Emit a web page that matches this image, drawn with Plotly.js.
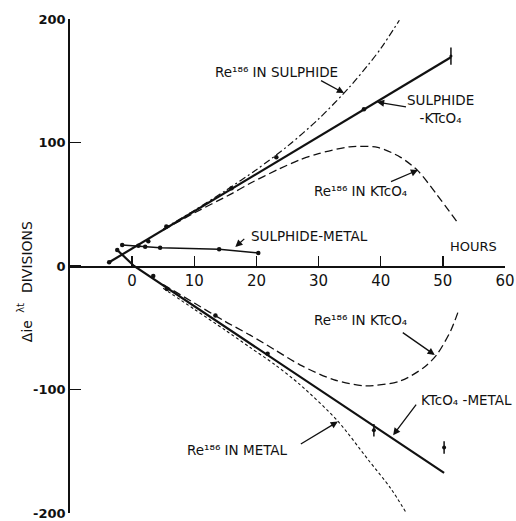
<!DOCTYPE html>
<html>
<head>
<meta charset="utf-8">
<script src="https://cdn.plot.ly/plotly-3.0.1.min.js"></script>
<style>html,body{margin:0;padding:0;background:#fff;}#chart{width:516px;height:521px;}</style>
</head>
<body>
<div id="chart"></div>
<script>
// ---- Data (hours, Δie^λt divisions) ----
const xTickVals = [0, 10, 20, 30, 40, 50, 60];
const xTickText = ['0', '10', '20', '30', '40', '50', '60'];
const yTickVals = [-200, -100, 0, 100, 200];
const yTickText = ['-200', '-100', '0', '100', '200'];

// SULPHIDE - KTcO4 (upper, solid fit)
const sulKtcHours = [-3.7, 2.6, 5.5, 16, 23.2, 37.3];
const sulKtcValues = [3, 20, 32, 63, 88, 127];
const sulKtcFitHours = [-3.7, 51.3];
const sulKtcFitValues = [3, 169];
const sulKtcErrHours = [51.3];
const sulKtcErrValues = [170];
const sulKtcErrSize = [7];

// Re186 in sulphide (dash-dot)
const reSulHours = [5, 10, 15, 20, 25, 30, 35, 38, 40, 43];
const reSulValues = [30, 45, 61, 78, 97, 119, 145, 163, 176, 199];

// Re186 in KTcO4 (upper, dashed)
const reKtcUpHours = [5, 10, 15.8, 19, 23.4, 27, 30, 35, 39.5, 43.2, 46, 49, 52.4];
const reKtcUpValues = [29, 43, 58, 67, 78, 86, 91, 96.5, 96, 88, 77, 58, 35];

// SULPHIDE - METAL
const sulMetHours = [-1.6, 1, 2.1, 4.5, 14, 20.3];
const sulMetValues = [17, 16.3, 15.6, 14.8, 13.6, 10.6];

// KTcO4 - METAL (lower, solid)
const ktcMetHours = [-2.4, 3.4, 5.6, 13.4, 21.8];
const ktcMetValues = [13, -8, -18.7, -40, -71];
const ktcMetFitHours = [-2.4, 0.3, 50.2];
const ktcMetFitValues = [13, 0, -167.5];
const ktcMetErrHours = [38.9, 50.2];
const ktcMetErrValues = [-133, -147];
const ktcMetErrSize = [5, 5];

// Re186 in KTcO4 (lower, dashed)
const reKtcLowHours = [5, 10, 15, 19, 23, 27, 32.4, 37.6, 43.2, 47, 49, 51.3, 52.6];
const reKtcLowValues = [-15, -30, -45, -56, -68, -80, -92, -97, -93, -82, -72, -52, -35];

// Re186 in metal (short dashes)
const reMetHours = [5, 10, 15, 19, 23, 27, 33, 38, 41.6, 44];
const reMetValues = [-18, -35, -52, -66, -80, -96, -125, -157, -180, -199];

const FONT = 'DejaVu Sans, Arial, sans-serif';
const black = '#111';

const traces = [
  {x: sulKtcFitHours, y: sulKtcFitValues, mode: 'lines', line: {color: black, width: 2.2}},
  {x: sulKtcHours, y: sulKtcValues, mode: 'markers', marker: {color: black, size: 4.5}},
  {x: sulKtcErrHours, y: sulKtcErrValues, mode: 'markers', marker: {color: black, size: 3},
   error_y: {type: 'data', array: sulKtcErrSize, color: black, thickness: 1.5, width: 0}},
  {x: reSulHours, y: reSulValues, mode: 'lines', line: {color: black, width: 1.2, dash: '7px,3px,2px,3px', shape: 'spline', smoothing: 0.8}},
  {x: reKtcUpHours, y: reKtcUpValues, mode: 'lines', line: {color: black, width: 1.3, dash: '8px,4px', shape: 'spline', smoothing: 0.8}},
  {x: sulMetHours, y: sulMetValues, mode: 'lines+markers', line: {color: black, width: 1.5}, marker: {color: black, size: 4.5}},
  {x: ktcMetFitHours, y: ktcMetFitValues, mode: 'lines', line: {color: black, width: 2.2}},
  {x: ktcMetHours, y: ktcMetValues, mode: 'markers', marker: {color: black, size: 4.5}},
  {x: ktcMetErrHours, y: ktcMetErrValues, mode: 'markers', marker: {color: black, size: 4},
   error_y: {type: 'data', array: ktcMetErrSize, color: black, thickness: 1.5, width: 0}},
  {x: reKtcLowHours, y: reKtcLowValues, mode: 'lines', line: {color: black, width: 1.3, dash: '8px,4px', shape: 'spline', smoothing: 0.8}},
  {x: reMetHours, y: reMetValues, mode: 'lines', line: {color: black, width: 1.1, dash: '3px,2.5px', shape: 'spline', smoothing: 0.8}}
];

const labelFont = {family: FONT, size: 13.5, color: black};
function label(x, y, text, extra) {
  return Object.assign({x: x, y: y, xref: 'x', yref: 'y', text: text, showarrow: false, font: labelFont, align: 'center'}, extra || {});
}
function arrow(x, y, ax, ay) {
  return {x: x, y: y, xref: 'x', yref: 'y', text: ' ', showarrow: true, ax: ax, ay: ay,
          font: {size: 2}, borderpad: 0,
          arrowhead: 2, arrowsize: 1.1, arrowwidth: 1.3, arrowcolor: black, standoff: 0, startstandoff: 0};
}
function ytitle(x, y, text, size) {
  return {xref: 'paper', yref: 'paper', x: x, y: y, xanchor: 'center', yanchor: 'middle',
          text: text, textangle: -90, showarrow: false, font: {family: FONT, size: size, color: black}};
}

const annotations = [
  label(23.3, 157, 'Re¹⁸⁶ IN SULPHIDE'),
  label(49.6, 127, 'SULPHIDE<br>-KTcO₄'),
  label(36.7, 61, 'Re¹⁸⁶ IN KTcO₄'),
  label(28.5, 24.5, 'SULPHIDE-METAL'),
  label(55, 16, 'HOURS', {font: {family: FONT, size: 13, color: black}}),
  label(36.7, -43.5, 'Re¹⁸⁶ IN KTcO₄'),
  label(53.8, -108.5, 'KTcO₄ -METAL'),
  label(17, -149, 'Re¹⁸⁶ IN METAL'),
  arrow(34.1, 140, -24, -13),
  arrow(39.4, 132.8, 30, 5),
  arrow(46, 77.7, -28, 12),
  arrow(16.6, 15.4, 10, -9),
  arrow(48.7, -72, -33, -23),
  arrow(42, -137, 24, -32),
  arrow(33.1, -126, -38, 23),
  ytitle(-0.099, 0.518, 'DIVISIONS', 14),
  ytitle(-0.099, 0.368, 'Δie', 14),
  ytitle(-0.113, 0.415, 'λt', 10)
];

const layout = {
  width: 516, height: 521,
  margin: {l: 70, r: 11, t: 19, b: 8},
  paper_bgcolor: '#fff', plot_bgcolor: '#fff',
  showlegend: false,
  font: {family: FONT, color: black},
  xaxis: {
    range: [-10, 60], anchor: 'free', position: 0.5,
    showgrid: false, zeroline: false, showline: true, linecolor: black, linewidth: 1.6,
    ticks: 'inside', ticklen: 10, tickwidth: 1.4, tickcolor: black,
    tickvals: xTickVals, ticktext: xTickText,
    tickfont: {family: FONT, size: 15, color: black}
  },
  yaxis: {
    range: [-200, 200],
    showgrid: false, zeroline: false, showline: true, linecolor: black, linewidth: 1.8,
    ticks: 'inside', ticklen: 11, tickwidth: 1.4, tickcolor: black,
    tickvals: yTickVals, ticktext: yTickText,
    tickfont: {family: FONT, size: 13, color: black, weight: 'bold'}
  },
  annotations: annotations
};

Plotly.newPlot('chart', traces, layout, {staticPlot: true});
</script>
</body>
</html>
